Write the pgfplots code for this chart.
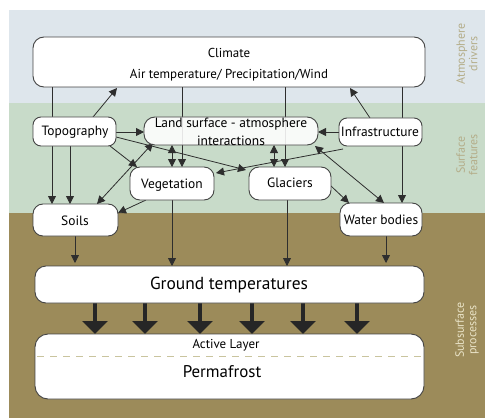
\documentclass[border=0pt]{standalone}
\usepackage{pgfplots}
\pgfplotsset{compat=1.18}
\usepackage{fontspec}
\setmainfont{PT Sans}
\usetikzlibrary{arrows.meta}
\definecolor{bgblue}{HTML}{DEE6EC}
\definecolor{bggreen}{HTML}{C8DBC9}
\definecolor{bgbrown}{HTML}{9C8B5A}
\definecolor{boxline}{HTML}{444444}
\definecolor{arr}{HTML}{2E2E2E}
\definecolor{txt}{HTML}{333333}
\definecolor{sidek}{HTML}{B4AD89}
\definecolor{sidel}{HTML}{EAE4C8}
\definecolor{dashk}{HTML}{C9C49E}
\begin{document}
\begin{tikzpicture}
\begin{axis}[width=485bp, height=418bp, scale only axis,
  xmin=0, xmax=485, ymin=0, ymax=418, y dir=reverse,
  axis lines=none, clip=false,
  every node/.append style={text=txt}]
% backgrounds
\addplot[draw=none, fill=bgblue] coordinates {(9,10) (485,10) (485,103) (9,103)} --cycle;
\addplot[draw=none, fill=bggreen] coordinates {(9,103) (485,103) (485,213) (9,213)} --cycle;
\addplot[draw=none, fill=bgbrown] coordinates {(9,213) (485,213) (485,418) (9,418)} --cycle;
% thin arrows
\tikzset{ta/.style={draw=arr, line width=0.8bp, -{Triangle[length=8bp,width=8bp]}},
         da/.style={draw=arr, line width=0.8bp, {Triangle[length=8bp,width=8bp]}-{Triangle[length=8bp,width=8bp]}}}
\addplot[ta] coordinates {(52,87) (52,204)};
\addplot[ta] coordinates {(402,87) (402,203)};
\addplot[ta] coordinates {(70,146) (70,204)};
\addplot[ta] coordinates {(182,87) (182,167)};
\addplot[ta] coordinates {(285,87) (285,167)};
\addplot[ta] coordinates {(93,117) (117,88)};
\addplot[ta] coordinates {(370,118) (350,88)};
\addplot[ta] coordinates {(116,132) (144,132)};
\addplot[ta] coordinates {(339,132) (318,132)};
\addplot[ta] coordinates {(110,146) (137,167)};
\addplot[ta] coordinates {(116,137) (246,170)};
\addplot[da] coordinates {(153,143) (97,204)};
\addplot[da] coordinates {(172,145) (172,167)};
\addplot[da] coordinates {(274,145) (274,167)};
\addplot[ta] coordinates {(343,149) (216,173)};
\addplot[da] coordinates {(315,146) (384,203)};
\addplot[ta] coordinates {(331,186) (349,203)};
\addplot[ta] coordinates {(146,200) (118,213)};
\addplot[ta] coordinates {(75,236) (75,263)};
\addplot[ta] coordinates {(172,200) (172,266)};
\addplot[ta] coordinates {(287,200) (287,266)};
\addplot[ta] coordinates {(386,236) (386,263)};
% thick arrows
\tikzset{tk/.style={draw=black!85, line width=4bp, -{Triangle[length=13bp,width=25bp]}}}
\addplot[tk] coordinates {(95,303) (95,334)};
\addplot[tk] coordinates {(145,303) (145,334)};
\addplot[tk] coordinates {(200,303) (200,334)};
\addplot[tk] coordinates {(252,303) (252,334)};
\addplot[tk] coordinates {(303,303) (303,334)};
\addplot[tk] coordinates {(357,303) (357,334)};
% boxes
\tikzset{bx/.style={draw=boxline, line width=0.9bp, fill=white, rounded corners=8bp}}
\draw[bx, rounded corners=11bp] (axis cs:33,37) rectangle (axis cs:425,87);
\draw[bx] (axis cs:33,117) rectangle (axis cs:116,146);
\draw[bx, rounded corners=11bp, fill opacity=0.88] (axis cs:144,117) rectangle (axis cs:318,145);
\draw[bx] (axis cs:339,118) rectangle (axis cs:422,146);
\draw[bx, rounded corners=10bp] (axis cs:130,167) rectangle (axis cs:214,200);
\draw[bx, rounded corners=10bp] (axis cs:249,167) rectangle (axis cs:331,200);
\draw[bx, rounded corners=10bp] (axis cs:33,204) rectangle (axis cs:118,236);
\draw[bx, rounded corners=10bp] (axis cs:340,203) rectangle (axis cs:422,236);
\draw[bx, rounded corners=11bp] (axis cs:35,266) rectangle (axis cs:424,303);
\draw[bx, rounded corners=13bp] (axis cs:35,334) rectangle (axis cs:424,399);
\addplot[draw=dashk, line width=1bp, dash pattern=on 7bp off 6bp] coordinates {(37,356) (422,356)};
% texts
\node[font=\fontsize{13}{15}\selectfont] at (axis cs:229,53) {Climate};
\node[font=\fontsize{13}{15}\selectfont] at (axis cs:229,75) {Air temperature/ Precipitation/Wind};
\node[font=\fontsize{13.5}{15}\selectfont] at (axis cs:75,132) {Topography};
\node[font=\fontsize{13.5}{15}\selectfont] at (axis cs:231,124) {Land surface - atmosphere};
\node[font=\fontsize{13.5}{15}\selectfont] at (axis cs:231,141) {interactions};
\node[font=\fontsize{13.5}{15}\selectfont] at (axis cs:380,132) {Infrastructure};
\node[font=\fontsize{13.5}{15}\selectfont] at (axis cs:172,185) {Vegetation};
\node[font=\fontsize{13.5}{15}\selectfont] at (axis cs:290,183) {Glaciers};
\node[font=\fontsize{13.5}{15}\selectfont] at (axis cs:75,221) {Soils};
\node[font=\fontsize{13.5}{15}\selectfont] at (axis cs:381,220) {Water bodies};
\node[font=\fontsize{17.5}{20}\selectfont] at (axis cs:229,285) {Ground temperatures};
\node[font=\fontsize{13}{15}\selectfont] at (axis cs:226,345) {Active Layer};
\node[font=\fontsize{17}{19}\selectfont] at (axis cs:222,372) {Permafrost};
\node[rotate=90, align=center, font=\fontsize{12}{12.5}\selectfont, text=sidek] at (axis cs:467,54) {Atmosphere\\drivers};
\node[rotate=90, align=center, font=\fontsize{12}{12.5}\selectfont, text=sidek] at (axis cs:467,155) {Surface\\features};
\node[rotate=90, align=center, font=\fontsize{12}{12.5}\selectfont, text=sidel] at (axis cs:467,330) {Subsurface\\processes};
\end{axis}
\pgfresetboundingbox
\path[use as bounding box] (0,0) rectangle (485bp,418bp);
\end{tikzpicture}
\end{document}
